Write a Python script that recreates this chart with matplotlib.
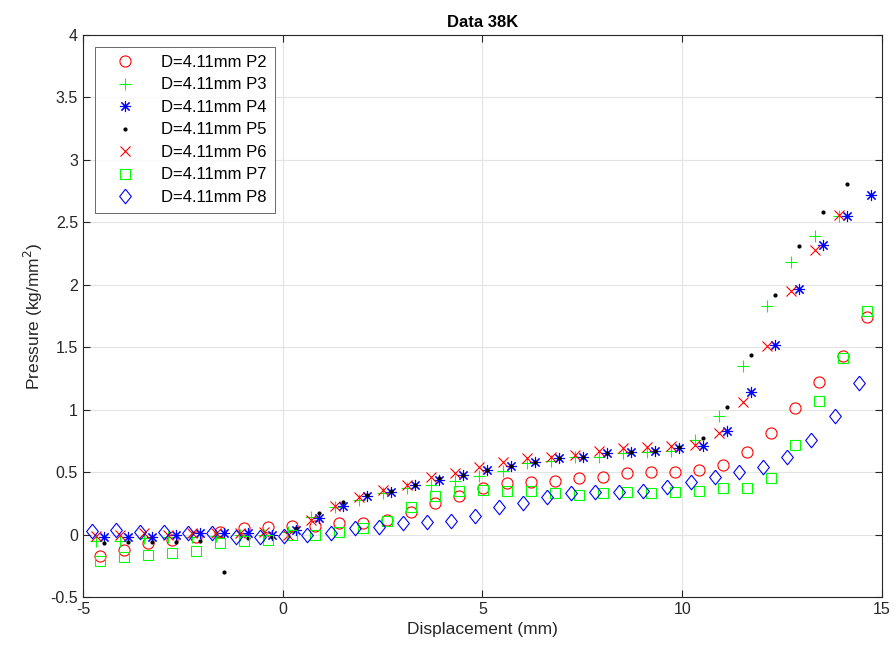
import matplotlib
matplotlib.use("Agg")
import matplotlib.pyplot as plt
import numpy as np

plt.rcParams["font.family"] = ["Liberation Sans", "DejaVu Sans"]
plt.rcParams["axes.unicode_minus"] = False

# sensor positions (mm)
x_p8 = [-4.78, -4.18, -3.58, -2.98, -2.38, -1.78, -1.18, -0.58, 0.02, 0.62, 1.22, 1.82, 2.42,
        3.02, 3.62, 4.22, 4.82, 5.42, 6.02, 6.62, 7.22, 7.82, 8.42, 9.02, 9.62, 10.22, 10.82,
        11.42, 12.02, 12.62, 13.22, 13.82, 14.42]
x_p36 = [-4.68, -4.08, -3.48, -2.88, -2.28, -1.68, -1.08, -0.48, 0.12, 0.72, 1.32, 1.92, 2.52,
         3.12, 3.72, 4.32, 4.92, 5.52, 6.12, 6.72, 7.32, 7.92, 8.52, 9.12, 9.72, 10.32, 10.92,
         11.52, 12.12, 12.72, 13.32, 13.92]
x_p27 = [-4.58, -3.98, -3.38, -2.78, -2.18, -1.58, -0.98, -0.38, 0.22, 0.82, 1.42, 2.02, 2.62,
         3.22, 3.82, 4.42, 5.02, 5.62, 6.22, 6.82, 7.42, 8.02, 8.62, 9.22, 9.82, 10.42, 11.02,
         11.62, 12.22, 12.82, 13.42, 14.02, 14.62]
x_p45 = [-4.48, -3.88, -3.28, -2.68, -2.08, -1.48, -0.88, -0.28, 0.32, 0.92, 1.52, 2.12, 2.72,
         3.32, 3.92, 4.52, 5.12, 5.72, 6.32, 6.92, 7.52, 8.12, 8.72, 9.32, 9.92, 10.52, 11.12,
         11.72, 12.32, 12.92, 13.52, 14.12, 14.72]

p2 = [-0.17, -0.12, -0.07, -0.04, -0.02, 0.02, 0.05, 0.06, 0.07, 0.07, 0.09, 0.09, 0.12, 0.18,
      0.25, 0.31, 0.37, 0.41, 0.42, 0.43, 0.45, 0.46, 0.49, 0.50, 0.50, 0.52, 0.56, 0.66, 0.81,
      1.01, 1.22, 1.43, 1.74]
p3 = [-0.05, -0.05, -0.03, -0.02, -0.02, -0.01, 0.00, 0.00, 0.02, 0.14, 0.22, 0.28, 0.33, 0.37,
      0.40, 0.43, 0.47, 0.51, 0.57, 0.59, 0.62, 0.62, 0.65, 0.66, 0.67, 0.76, 0.95, 1.35, 1.83,
      2.18, 2.39, 2.55]
p4 = [-0.02, -0.02, -0.02, 0.00, 0.01, 0.01, 0.01, 0.00, 0.04, 0.13, 0.23, 0.31, 0.34, 0.40,
      0.44, 0.48, 0.52, 0.55, 0.58, 0.61, 0.62, 0.65, 0.66, 0.67, 0.69, 0.71, 0.83, 1.14, 1.52,
      1.97, 2.32, 2.55, 2.72]
p5 = [-0.07, -0.06, -0.06, -0.06, -0.05, -0.30, -0.03, -0.02, 0.05, 0.17, 0.26, 0.32, 0.35, 0.40,
      0.45, 0.48, 0.52, 0.55, 0.58, 0.61, 0.62, 0.65, 0.66, 0.67, 0.70, 0.77, 1.02, 1.44, 1.92,
      2.31, 2.58, 2.81]
p6 = [-0.01, 0.00, 0.01, 0.00, 0.01, 0.01, 0.01, 0.02, 0.00, 0.12, 0.23, 0.30, 0.36, 0.40, 0.46,
      0.49, 0.54, 0.58, 0.61, 0.62, 0.64, 0.67, 0.69, 0.70, 0.71, 0.72, 0.81, 1.06, 1.51, 1.95,
      2.28, 2.56]
p7 = [-0.21, -0.18, -0.16, -0.15, -0.13, -0.07, -0.05, -0.04, 0.00, 0.00, 0.02, 0.05, 0.11, 0.22,
      0.31, 0.35, 0.36, 0.35, 0.35, 0.33, 0.32, 0.33, 0.34, 0.33, 0.34, 0.35, 0.37, 0.37, 0.45,
      0.72, 1.07, 1.41, 1.79]
p8 = [0.03, 0.04, 0.02, 0.02, 0.01, 0.01, -0.02, -0.02, -0.01, 0.00, 0.01, 0.05, 0.06, 0.09, 0.10,
      0.11, 0.15, 0.22, 0.25, 0.30, 0.33, 0.34, 0.34, 0.35, 0.38, 0.42, 0.46, 0.50, 0.54, 0.62,
      0.76, 0.95, 1.21]

fig = plt.figure(figsize=(8.94, 6.54), dpi=100, facecolor="white")
ax = fig.add_axes([0.0928, 0.0872, 0.8938, 0.8593])

# matlab style diamond, a bit taller than wide
diamond = [(0, 1), (0.8, 0), (0, -1), (-0.8, 0), (0, 1)]

lab = "D=4.11mm "
ax.plot(x_p27, p2, "o", mfc="none", mec="#ff0000", ms=8, mew=0.8, label=lab + "P2")
ax.plot(x_p36, p3, "+", color="#00ff00", ms=8.5, mew=0.8, label=lab + "P3")
ax.plot(x_p45, p4, marker=(8, 2, 0), ls="none", color="#0000ff", ms=8, mew=0.8, label=lab + "P4")
ax.plot(x_p45[:len(p5)], p5, ".", color="black", ms=4, label=lab + "P5")
ax.plot(x_p36, p6, "x", color="#ff0000", ms=6.5, mew=0.8, label=lab + "P6")
ax.plot(x_p27, p7, "s", mfc="none", mec="#00ff00", ms=6.5, mew=0.8, label=lab + "P7")
ax.plot(x_p8, p8, marker=diamond, ls="none", mfc="none", mec="#0000ff", ms=10.5, mew=0.8,
        label=lab + "P8")

ax.set_xlim(-5, 15)
ax.set_ylim(-0.5, 4)
ax.set_xticks([-5, 0, 5, 10, 15])
ax.set_yticks(np.arange(-0.5, 4.01, 0.5))
ax.set_yticklabels(["-0.5", "0", "0.5", "1", "1.5", "2", "2.5", "3", "3.5", "4"])
ax.grid(True, color="#e3e3e3", lw=0.8)
ax.set_axisbelow(True)
ax.tick_params(direction="in", top=True, right=True, labelsize=11.5, colors="#262626", length=5)
for s in ax.spines.values():
    s.set_color("#262626")
    s.set_linewidth(0.8)

ax.set_xlabel("Displacement (mm)", fontsize=12.5, color="#262626")
ax.set_ylabel("Pressure (kg/mm$^2$)", fontsize=12.5, color="#262626")
ax.set_title("Data 38K", fontsize=12, fontweight="bold", color="black", pad=6)

leg = ax.legend(loc="upper left", fontsize=12, frameon=True, fancybox=False,
                edgecolor="#262626", borderaxespad=0.7, handletextpad=0.9, labelspacing=0.45,
                markerfirst=True, handlelength=2.6, borderpad=0.5)
leg.get_frame().set_linewidth(0.6)

fig.savefig("out.png", dpi=100)
